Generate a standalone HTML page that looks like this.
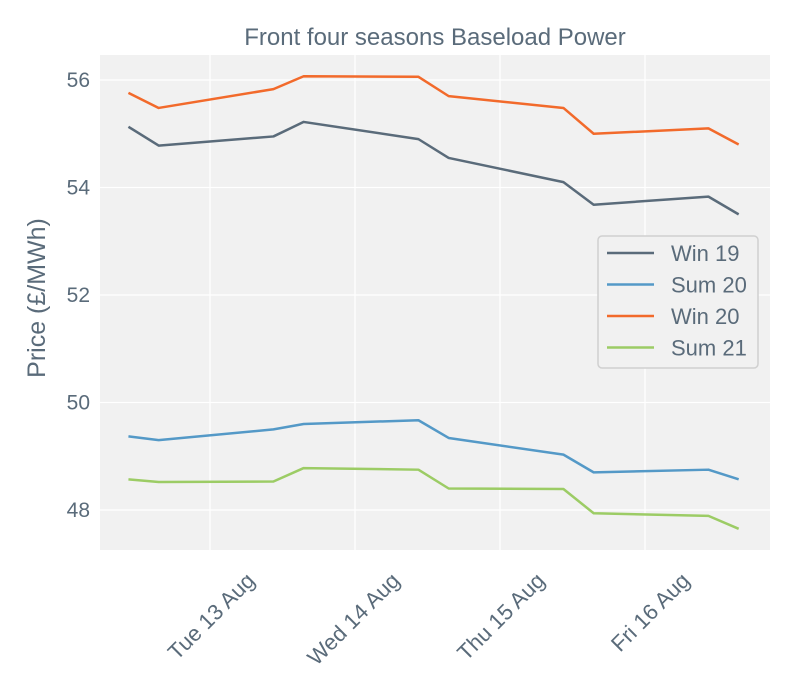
<!DOCTYPE html>
<html><head><meta charset="utf-8"><style>
body{margin:0;background:#fff;}
svg{display:block;font-family:"Liberation Sans",sans-serif;}
</style></head><body>
<svg id="chart" width="800" height="700">
<rect x="100" y="55" width="670" height="495" fill="#f1f1f1"/>
<g id="grid"></g><g id="series"></g><g id="axes"></g>
<text x="435" y="45" text-anchor="middle" font-size="24" fill="#5a6b7a">Front four seasons Baseload Power</text>
<text transform="translate(45,298) rotate(-90)" text-anchor="middle" font-size="25" fill="#5a6b7a">Price (£/MWh)</text>
<g id="legend"></g>
</svg>
<script>
const times = [0.4375,0.646,1.4375,1.646,2.4375,2.646,3.4375,3.646,4.4375,4.646];
const seriesNames = ["Win 19","Sum 20","Win 20","Sum 21"];
const win19 = [55.13,54.78,54.95,55.22,54.9,54.55,54.1,53.68,53.83,53.5];
const sum20 = [49.37,49.3,49.5,49.6,49.67,49.34,49.03,48.7,48.75,48.57];
const win20 = [55.76,55.48,55.83,56.07,56.06,55.7,55.48,55.0,55.1,54.8];
const sum21 = [48.57,48.52,48.53,48.78,48.75,48.4,48.39,47.94,47.89,47.65];
const yTicks = [48,50,52,54,56];
const xTickDays = [1,2,3,4];
const xTickLabels = ["Tue 13 Aug","Wed 14 Aug","Thu 15 Aug","Fri 16 Aug"];
const colors = ["#5a6b7a","#5499c7","#f26a2b","#9ccc65"];
const NS="http://www.w3.org/2000/svg";
const xs = d => 65 + d*145;
const ys = v => 80 + (56 - v)*53.75;
function mk(tag, attrs, parent){const e=document.createElementNS(NS,tag);for(const k in attrs)e.setAttribute(k,attrs[k]);parent.appendChild(e);return e;}
const grid=document.getElementById('grid'), axes=document.getElementById('axes'), ser=document.getElementById('series'), leg=document.getElementById('legend');
yTicks.forEach(t=>{
  const l=mk('line',{x1:100,x2:770,y1:ys(t),y2:ys(t),stroke:'#fff','stroke-width':1.3},grid);
  
  
  const tx=mk('text',{x:90,y:ys(t)+7,'text-anchor':'end','font-size':21,fill:'#5a6b7a'},axes);
  tx.textContent=t;
  
  
});
xTickDays.forEach((d,i)=>{
  const l=mk('line',{x1:xs(d),x2:xs(d),y1:55,y2:550,stroke:'#fff','stroke-width':1.3},grid);
  
  
  const tx=mk('text',{transform:`translate(${xs(d)+46},582) rotate(-45)`,'text-anchor':'end','font-size':22,fill:'#5a6b7a'},axes);
  tx.textContent=xTickLabels[i];
  
  
});
[win19,sum20,win20,sum21].forEach((vals,i)=>{
  const p=mk('polyline',{points:vals.map((v,j)=>xs(times[j])+','+ys(v)).join(' '),fill:'none',stroke:colors[i],'stroke-width':2.5,'stroke-linejoin':'round'},ser);
  
  
});
const box=mk('rect',{x:598,y:236,width:160,height:132,rx:4,fill:'#f1f1f1',stroke:'#d0d0d0','stroke-width':1.5},leg);


seriesNames.forEach((n,i)=>{
  const y=253+i*31.5;
  const l=mk('line',{x1:607,x2:654,y1:y,y2:y,stroke:colors[i],'stroke-width':2.5},leg);
  
  
  const t=mk('text',{x:671,y:y+8,'font-size':22,fill:'#5a6b7a'},leg);
  t.textContent=n;
  
  
});
</script>
</body></html>
